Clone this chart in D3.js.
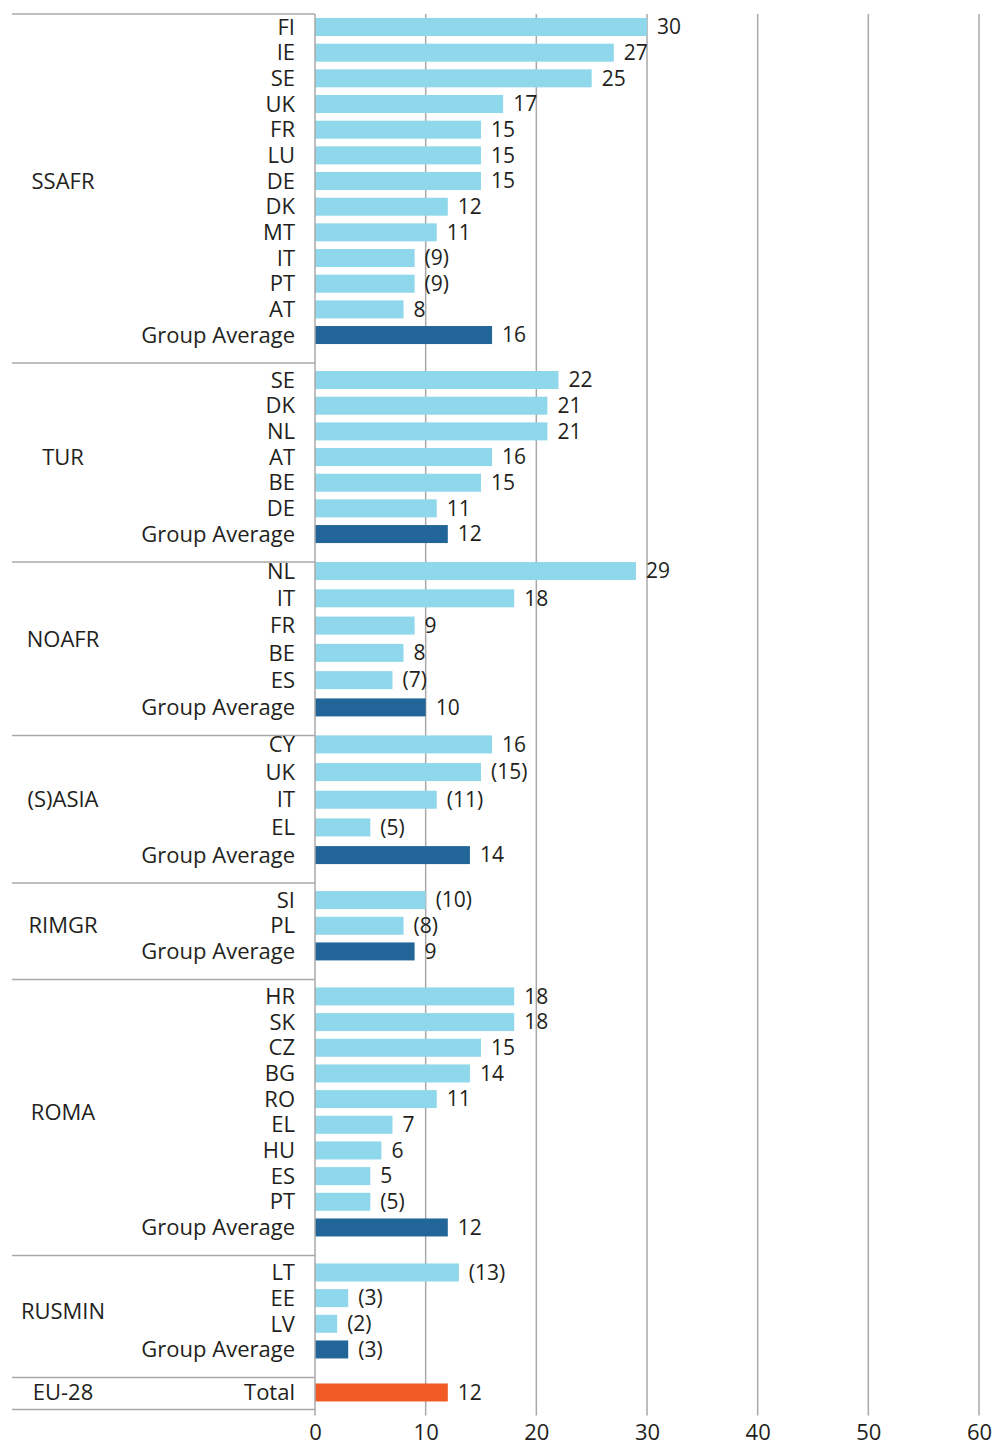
<!DOCTYPE html>
<html>
<head>
<meta charset="utf-8">
<script src="https://cdn.jsdelivr.net/npm/d3@7"></script>
<style>
  body { margin: 0; background: #fff; }
  text { font-family: "Open Sans", "Noto Sans", sans-serif; fill: #231f20; }
</style>
</head>
<body>
<script>
// Data. Values in brackets are flagged with a bracket list.
const groupNames = ["SSAFR", "TUR", "NOAFR", "(S)ASIA", "RIMGR", "ROMA", "RUSMIN", "EU-28"];

const ssafrCountries = ["FI", "IE", "SE", "UK", "FR", "LU", "DE", "DK", "MT", "IT", "PT", "AT", "Group Average"];
const ssafrValues    = [30, 27, 25, 17, 15, 15, 15, 12, 11, 9, 9, 8, 16];
const ssafrBracketed = ["IT", "PT"];

const turCountries = ["SE", "DK", "NL", "AT", "BE", "DE", "Group Average"];
const turValues    = [22, 21, 21, 16, 15, 11, 12];
const turBracketed = [];

const noafrCountries = ["NL", "IT", "FR", "BE", "ES", "Group Average"];
const noafrValues    = [29, 18, 9, 8, 7, 10];
const noafrBracketed = ["ES"];

const asiaCountries = ["CY", "UK", "IT", "EL", "Group Average"];
const asiaValues    = [16, 15, 11, 5, 14];
const asiaBracketed = ["UK", "IT", "EL"];

const rimgrCountries = ["SI", "PL", "Group Average"];
const rimgrValues    = [10, 8, 9];
const rimgrBracketed = ["SI", "PL"];

const romaCountries = ["HR", "SK", "CZ", "BG", "RO", "EL", "HU", "ES", "PT", "Group Average"];
const romaValues    = [18, 18, 15, 14, 11, 7, 6, 5, 5, 12];
const romaBracketed = ["PT"];

const rusminCountries = ["LT", "EE", "LV", "Group Average"];
const rusminValues    = [13, 3, 2, 3];
const rusminBracketed = ["LT", "EE", "LV", "Group Average"];

const euCountries = ["Total"];
const euValues    = [12];
const euBracketed = [];

const xTicks = [0, 10, 20, 30, 40, 50, 60];

// Build group table
const groupRows = [
  [ssafrCountries, ssafrValues, ssafrBracketed],
  [turCountries, turValues, turBracketed],
  [noafrCountries, noafrValues, noafrBracketed],
  [asiaCountries, asiaValues, asiaBracketed],
  [rimgrCountries, rimgrValues, rimgrBracketed],
  [romaCountries, romaValues, romaBracketed],
  [rusminCountries, rusminValues, rusminBracketed],
  [euCountries, euValues, euBracketed]
];

const width = 994;
const height = 1445;
const xLeft = 315;
const xRight = 979;
const lineLeft = 12;
const frameStart = 14;
const pitch = 25.67;
const padTop = 17;
const padBottom = 28;
const barH = 18;
const axisOverhang = 6;
// a few groups sit higher in their band in the original
const padTopByGroup = { "SSAFR": 13, "NOAFR": 9, "(S)ASIA": 9 };

const colLight = "#8fd7ea";
const colAvg = "#226699";
const colTotal = "#f15a24";
const gridCol = "#a8a8a8";

const x = d3.scaleLinear().domain([0, 60]).range([xLeft, xRight]);

// lay out groups
let cursor = frameStart;
const groups = groupNames.map((name, i) => {
  const [cats, vals, br] = groupRows[i];
  const isTotal = name === "EU-28";
  const pt = padTopByGroup[name] ?? padTop;
  const h = isTotal ? 32 : (name === "SSAFR" ? 13 : padTop) + padBottom + (cats.length - 1) * pitch;
  const g0 = cursor;
  cursor += h;
  const y = d3.scalePoint()
    .domain(cats)
    .range(isTotal ? [g0 + 15, g0 + 15] : [g0 + pt, g0 + h - padBottom]);
  const rows = cats.map((c, j) => ({
    group: name,
    cat: c,
    value: vals[j],
    label: br.includes(c) ? `(${vals[j]})` : `${vals[j]}`,
    y: y(c),
    kind: isTotal ? "total" : (c === "Group Average" ? "avg" : "country")
  }));
  return { name, top: g0, bottom: cursor, rows, y };
});
const frameTop = groups[0].top;
const frameBottom = cursor;

const svg = d3.select("body")
  .append("svg")
  .attr("width", width)
  .attr("height", height)
  .attr("viewBox", [0, 0, width, height]);

// vertical gridlines
svg.append("g")
  .selectAll("line")
  .data(xTicks.slice(1))
  .join("line")
    .attr("x1", d => x(d))
    .attr("x2", d => x(d))
    .attr("y1", frameTop)
    .attr("y2", frameBottom + axisOverhang)
    .attr("stroke", gridCol)
    .attr("stroke-width", 1.5);

// group separators
const seps = [frameTop].concat(groups.map(g => g.bottom));
svg.append("g")
  .selectAll("line")
  .data(seps)
  .join("line")
    .attr("x1", lineLeft)
    .attr("x2", xLeft)
    .attr("y1", d => d)
    .attr("y2", d => d)
    .attr("stroke", gridCol)
    .attr("stroke-width", 1.5);

const allRows = groups.flatMap(g => g.rows);

// bars
svg.append("g")
  .selectAll("rect")
  .data(allRows)
  .join("rect")
    .attr("x", x(0))
    .attr("y", d => d.y - barH / 2)
    .attr("width", d => x(d.value) - x(0))
    .attr("height", barH)
    .attr("fill", d => d.kind === "total" ? colTotal : d.kind === "avg" ? colAvg : colLight);

// y axis line
svg.append("line")
  .attr("x1", xLeft).attr("x2", xLeft)
  .attr("y1", frameTop).attr("y2", frameBottom + axisOverhang)
  .attr("stroke", gridCol)
  .attr("stroke-width", 1.5);

// value labels
svg.append("g")
  .selectAll("text")
  .data(allRows)
  .join("text")
    .attr("x", d => x(d.value) + 10)
    .attr("y", d => d.y)
    .attr("dy", "0.35em")
    .attr("font-size", 21)
    .text(d => d.label);

// category labels
svg.append("g")
  .selectAll("text")
  .data(allRows)
  .join("text")
    .attr("x", 295)
    .attr("y", d => d.y)
    .attr("dy", "0.35em")
    .attr("text-anchor", "end")
    .attr("font-size", 22)
    .text(d => d.cat);

// group labels
svg.append("g")
  .selectAll("text")
  .data(groups)
  .join("text")
    .attr("x", 63)
    .attr("y", g => (g.rows[0].y + g.rows[g.rows.length - 1].y) / 2)
    .attr("dy", "0.35em")
    .attr("text-anchor", "middle")
    .attr("font-size", 22)
    .text(g => g.name);

// x axis tick labels
svg.append("g")
  .attr("transform", `translate(0,${frameBottom + axisOverhang})`)
  .call(d3.axisBottom(x).tickValues(xTicks).tickSize(0).tickPadding(9))
  .call(g => g.select(".domain").remove())
  .call(g => g.selectAll("text")
    .attr("font-size", 22)
    .attr("fill", "#231f20")
    .style("font-family", "'Open Sans', 'Noto Sans', sans-serif"));
</script>
</body>
</html>
